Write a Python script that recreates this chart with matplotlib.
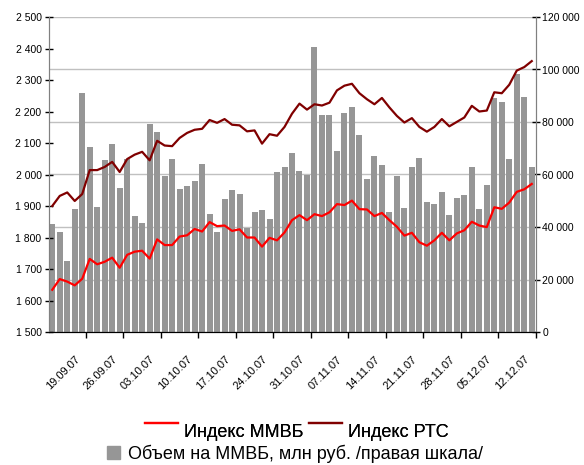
import numpy as np
import matplotlib
matplotlib.use('Agg')
import matplotlib.pyplot as plt
from matplotlib.lines import Line2D
from matplotlib.patches import Patch
from matplotlib.ticker import FuncFormatter

plt.rcParams['font.family'] = ['Liberation Sans', 'DejaVu Sans']

# values, one per trading day (13.09.07 - 12.12.07)
volume = [41100, 38100, 27100, 46800, 90900, 70500, 47600, 65400, 71500, 54800,
          65900, 44200, 41500, 79100, 76100, 59400, 65800, 54400, 55600, 57500,
          63900, 44900, 38100, 50600, 54100, 52500, 39700, 45700, 46500, 43000,
          60900, 62800, 68100, 61300, 59700, 108700, 82500, 82500, 68900, 83300,
          85600, 74900, 58200, 67000, 63500, 45700, 59400, 47200, 62800, 66200,
          49500, 48700, 53300, 44600, 51000, 52200, 62800, 46800, 55900, 89000,
          87800, 65800, 98100, 89700, 62800]
rts = [1900, 1932, 1943, 1916, 1938, 2014, 2014, 2024, 2040, 2008,
       2049, 2063, 2072, 2045, 2107, 2092, 2090, 2116, 2132, 2142,
       2145, 2173, 2164, 2176, 2158, 2156, 2137, 2140, 2098, 2128,
       2123, 2151, 2193, 2225, 2206, 2223, 2219, 2228, 2267, 2282,
       2288, 2258, 2239, 2223, 2243, 2213, 2186, 2165, 2179, 2151,
       2136, 2151, 2176, 2153, 2167, 2181, 2218, 2200, 2203, 2261,
       2258, 2285, 2330, 2341, 2360]
micex = [1634, 1668, 1660, 1648, 1669, 1732, 1715, 1723, 1736, 1704,
         1745, 1755, 1758, 1733, 1794, 1776, 1776, 1803, 1807, 1827,
         1819, 1849, 1836, 1838, 1821, 1826, 1800, 1800, 1771, 1799,
         1791, 1816, 1855, 1871, 1855, 1874, 1868, 1880, 1906, 1903,
         1917, 1890, 1889, 1868, 1878, 1855, 1834, 1806, 1815, 1785,
         1774, 1791, 1815, 1791, 1813, 1823, 1850, 1838, 1833, 1896,
         1891, 1911, 1945, 1953, 1970]
date_labels = ['19.09.07', '26.09.07', '03.10.07', '10.10.07', '17.10.07',
               '24.10.07', '31.10.07', '07.11.07', '14.11.07', '21.11.07',
               '28.11.07', '05.12.07', '12.12.07']

n = len(volume)
x = np.arange(n)
sp = lambda v, p: format(int(v), ',').replace(',', ' ')

fig = plt.figure(figsize=(5.84, 4.65), dpi=100)
ax = fig.add_axes([48.5/584, 133/465, 487/584, 315/465])
ax2 = ax.twinx()

ax2.bar(x, volume, width=0.8, color='#969696', zorder=2)
ax2.set_ylim(0, 120000)
ax2.set_yticks(np.arange(0, 120001, 20000))
ax2.yaxis.set_major_formatter(FuncFormatter(sp))
ax2.set_axisbelow(True)
ax2.grid(axis='y', color='#c0c0c0', lw=1)

ax.plot(x, micex, color='#ff0000', lw=1.6)
ax.plot(x, rts, color='#800000', lw=1.6)
ax.set_ylim(1500, 2500)
ax.set_yticks(np.arange(1500, 2501, 100))
ax.yaxis.set_major_formatter(FuncFormatter(sp))
ax.set_xlim(-0.5, n - 0.5)
ax.set_zorder(ax2.get_zorder() + 1)
ax.patch.set_visible(False)

# ticks between categories, labels on every 5th day
ax.set_xticks(np.arange(4.5, n, 5))
ax.set_xticks(np.arange(4, n, 5) - 1.0, minor=True)
ax.set_xticklabels([], minor=False)
ax.set_xticklabels(date_labels, minor=True, rotation=45, ha='right',
                   va='top', rotation_mode='anchor', fontsize=8)
ax.tick_params(axis='x', which='major', direction='out', length=4, width=1)
ax.tick_params(axis='x', which='minor', length=0, pad=16)
ax.tick_params(axis='y', direction='inout', length=6, width=1, labelsize=7.5, pad=2)
ax2.tick_params(axis='y', direction='inout', length=6, width=1, labelsize=7.5, pad=2)

for a in (ax, ax2):
    a.spines['top'].set_visible(False)
    a.spines['left'].set_color('#808080')
    a.spines['right'].set_color('#808080')
    a.spines['bottom'].set_color('black')

leg1 = fig.legend([Line2D([], [], color='#ff0000', lw=1.6), Line2D([], [], color='#800000', lw=1.6)],
                  ['Индекс ММВБ', 'Индекс РТС'], ncol=2, loc='center',
                  bbox_to_anchor=(296.5/584, 1 - 432/465), frameon=False, fontsize=13,
                  handlelength=1.83, handletextpad=0.33, columnspacing=0.3,
                  borderpad=0, borderaxespad=0)
for l in leg1.get_lines():
    l.set_ydata(np.asarray(l.get_ydata()) + 5)
leg2 = fig.legend([Patch(color='#969696')], ['Объем на ММВБ, млн руб. /правая шкала/'],
                  loc='center', bbox_to_anchor=(295/584, 1 - 454/465), frameon=False,
                  fontsize=13, handlelength=0.72, handleheight=0.72, handletextpad=0.44,
                  borderpad=0, borderaxespad=0)
fig.add_artist(leg1)

fig.savefig('out.png', dpi=100)
